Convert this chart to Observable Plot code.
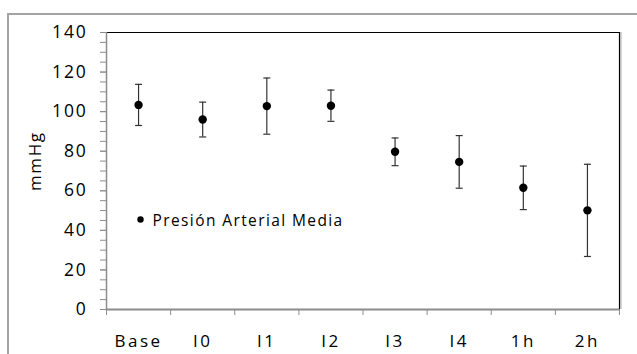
<!DOCTYPE html>
<html>
<head>
<meta charset="utf-8">
<script src="https://cdn.jsdelivr.net/npm/d3@7"></script>
<script src="https://cdn.jsdelivr.net/npm/@observablehq/plot@0.6"></script>
<style>
  html, body { margin: 0; padding: 0; background: #fff; overflow: hidden; }
  #wrap { position: relative; width: 637px; height: 354px; }
  #border {
    position: absolute; left: 7px; top: 13px; width: 700px; height: 400px;
    border-left: 2px solid #a3a3a3; border-top: 2px solid #a3a3a3;
    pointer-events: none;
  }
  svg text { font-family: "Open Sans", sans-serif; }
</style>
</head>
<body>
<div id="wrap"><div id="border"></div></div>
<script>
// Mean arterial pressure (mmHg) by measurement moment, with ± SD error bars
const categories = ["Base", "I0", "I1", "I2", "I3", "I4", "1h", "2h"];
const means = [103.4, 96.0, 102.8, 103.0, 79.7, 74.6, 61.5, 50.1];
const sds = [10.4, 8.8, 14.2, 7.9, 7.0, 13.3, 11.0, 23.3];
const yTicks = [0, 20, 40, 60, 80, 100, 120, 140];
const seriesName = "Presión Arterial Media";
const yLabel = "mmHg";

const rows = categories.map((c, i) => ({
  pos: i + 0.5,
  mean: means[i],
  lo: means[i] - sds[i],
  hi: means[i] + sds[i]
}));

// short horizontal line used as error-bar cap
const cap = { draw(ctx) { ctx.moveTo(-3.5, 0); ctx.lineTo(3.5, 0); } };

const axisGray = "#8c8c8c";

const chart = Plot.plot({
  width: 637,
  height: 354,
  marginLeft: 106,
  marginRight: 18,
  marginTop: 32,
  marginBottom: 45,
  style: { fontSize: "16px", fontFamily: "'Open Sans', sans-serif", color: "#000", background: "transparent" },
  x: { domain: [0, categories.length], axis: null },
  y: { domain: [0, 140], axis: null },
  marks: [
    // plot-area frame: black top/right, gray axes left/bottom
    Plot.ruleY([140], { stroke: "black", strokeWidth: 1.2 }),
    Plot.ruleX([categories.length], { stroke: "#aaa", strokeWidth: 1, dx: 1.5 }),
    Plot.ruleX([categories.length], { stroke: "black", strokeWidth: 1.2 }),
    // y axis minor + major ticks
    Plot.axisY({ ticks: d3.range(0, 141, 5), tickSize: 6, tickFormat: () => "", stroke: axisGray, label: null }),
    Plot.axisY({ ticks: yTicks, tickSize: 6, tickPadding: 13, stroke: axisGray, label: null, fill: "#000" }),
    // x axis: boundary ticks and centred labels
    Plot.axisX({ ticks: d3.range(0, categories.length + 1), tickSize: 6, tickFormat: () => "", stroke: axisGray, label: null }),
    Plot.axisX({ ticks: rows.map(d => d.pos), tickSize: 0, tickPadding: 25, label: null,
      tickFormat: v => categories[Math.floor(v)], fill: "#000" }),
    Plot.ruleX([0], { stroke: axisGray, strokeWidth: 1.5 }),
    Plot.ruleY([0], { stroke: axisGray, strokeWidth: 2 }),
    // y label
    Plot.text([yLabel], { frameAnchor: "left", dx: -71, dy: 20, rotate: -90, fill: "#000" }),
    // error bars
    Plot.ruleX(rows, { x: "pos", y1: "lo", y2: "hi", stroke: "#333", strokeWidth: 1.2 }),
    Plot.dot(rows, { x: "pos", y: "hi", symbol: cap, r: 4, stroke: "#333", strokeWidth: 1.2, fill: "none" }),
    Plot.dot(rows, { x: "pos", y: "lo", symbol: cap, r: 4, stroke: "#333", strokeWidth: 1.2, fill: "none" }),
    // means
    Plot.dot(rows, { x: "pos", y: "mean", r: 4.2, fill: "black", stroke: "none" }),
    // legend
    Plot.dot([seriesName], { frameAnchor: "top-left", dx: 34, dy: 187, r: 3.2, fill: "black" }),
    Plot.text([seriesName], { frameAnchor: "top-left", dx: 46, dy: 189, lineAnchor: "middle",
      text: d => d, textAnchor: "start", fill: "#000" })
  ]
});

document.getElementById("wrap").prepend(chart);

// type sizes and tracking for tick labels, axis title and legend
function styleText(el) {
  const t = el.textContent;
  const s = el.style;
  if (t === seriesName) { s.fontSize = "15.5px"; s.letterSpacing = "1.4px"; }
  else if (t === yLabel) { s.fontSize = "17px"; s.letterSpacing = "1.6px"; }
  else if (categories.includes(t)) { s.fontSize = "17px"; s.letterSpacing = "2.5px"; }
  else { s.fontSize = "17.5px"; s.letterSpacing = "1.8px"; }
}
d3.select(chart).selectAll("text").each(function () { styleText(this); });
d3.select(chart).selectAll("tspan").each(function () { styleText(this); });
</script>
</body>
</html>
